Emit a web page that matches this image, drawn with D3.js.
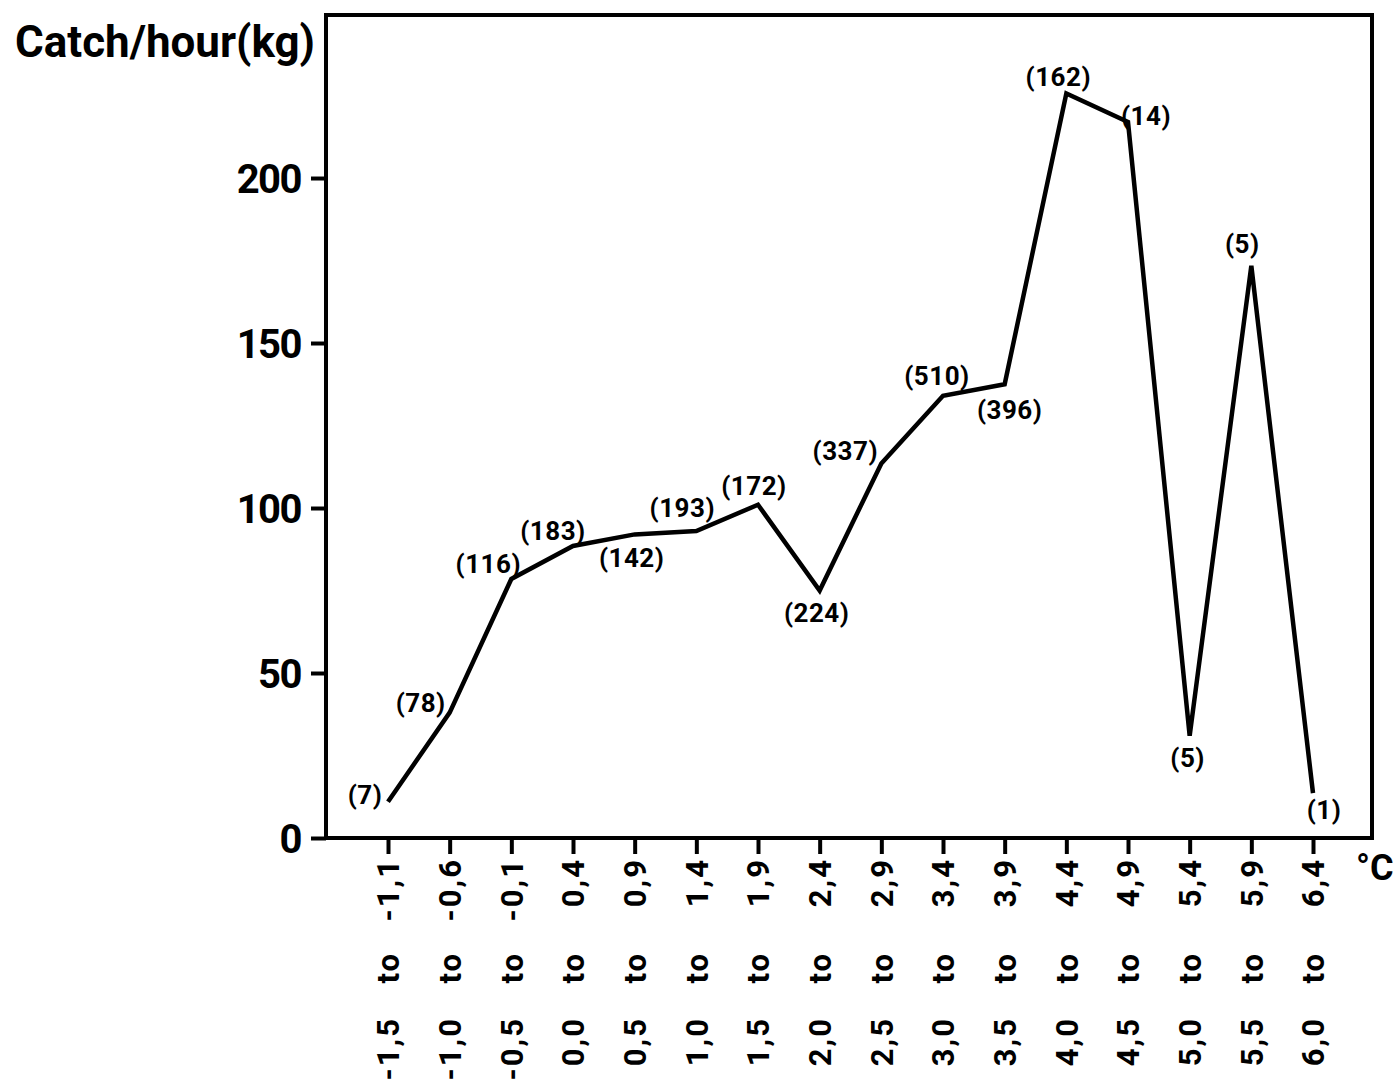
<!DOCTYPE html>
<html>
<head>
<meta charset="utf-8">
<script src="https://cdn.jsdelivr.net/npm/d3@7"></script>
<style>
  body { margin: 0; background: #fff; }
  svg { display: block; }
  text { font-family: Roboto, "DejaVu Sans", sans-serif; font-weight: 700; fill: #000; }
</style>
</head>
<body>
<div class="svgContainer"></div>
<script>
// temperature classes (lower and upper bound of each class)
const lowerBounds = ['-1,5', '-1,0', '-0,5', '0,0', '0,5', '1,0', '1,5', '2,0',
  '2,5', '3,0', '3,5', '4,0', '4,5', '5,0', '5,5', '6,0'];
const upperBounds = ['-1,1', '-0,6', '-0,1', '0,4', '0,9', '1,4', '1,9', '2,4',
  '2,9', '3,4', '3,9', '4,4', '4,9', '5,4', '5,9', '6,4'];
// catch per hour (kg)
const catchPerHour = [11, 38, 78.5, 88.5, 92, 93, 101, 75,
  113.5, 134, 137.5, 225.6, 217, 31, 173.4, 13.6];
// number of hauls, shown in brackets
const hauls = [7, 78, 116, 183, 142, 193, 172, 224, 337, 510, 396, 162, 14, 5, 5, 1];
const yTicks = [0, 50, 100, 150, 200];

// where each bracket label sits relative to its point
const labelOffsets = [[-23, -7], [-29, -10], [-23, -15], [-20, -15], [-3, 23], [-14, -23],
  [-4, -19], [-3, 22], [-36, -13], [-6, -20], [5, 25], [-8, -17], [18, -6], [-2, 22],
  [-9, -22], [11, 17]];

const width = 1397;
const height = 1084;
const frameLeft = 326, frameRight = 1372, frameTop = 15, frameBottom = 838;

const categories = lowerBounds.map((d, i) => d + ' to ' + upperBounds[i]);
const data = categories.map((c, i) => ({cat: c, y: catchPerHour[i], n: hauls[i], off: labelOffsets[i]}));

const svg = d3.select('.svgContainer').append('svg')
  .attr('width', width)
  .attr('height', height);

const scaleX = d3.scalePoint()
  .domain(categories)
  .range([388, 1313]);

const scaleY = d3.scaleLinear()
  .domain([0, 249.4])
  .range([frameBottom, frameTop]);

// frame
svg.append('rect')
  .attr('x', frameLeft)
  .attr('y', frameTop)
  .attr('width', frameRight - frameLeft)
  .attr('height', frameBottom - frameTop)
  .attr('fill', 'none')
  .attr('stroke', '#000')
  .attr('stroke-width', 4);

// y axis
const yAxis = svg.append('g')
  .attr('transform', 'translate(' + frameLeft + ',0)')
  .call(d3.axisLeft(scaleY).tickValues(yTicks).tickSize(15).tickPadding(10));
yAxis.select('.domain').remove();
yAxis.selectAll('line').attr('stroke-width', 4);
yAxis.selectAll('text')
  .attr('font-family', 'Roboto, sans-serif')
  .attr('font-weight', 500)
  .attr('font-size', 40)
  .attr('letter-spacing', -1.5)
  .attr('dy', '0.36em');

// x axis, labels drawn by hand below
const xAxis = svg.append('g')
  .attr('transform', 'translate(0,' + frameBottom + ')')
  .call(d3.axisBottom(scaleX).tickSize(16).tickFormat(''));
xAxis.select('.domain').remove();
xAxis.selectAll('line').attr('stroke-width', 4);

const cols = svg.append('g').selectAll('g.col')
  .data(data)
  .enter()
  .append('g')
  .attr('class', 'col')
  .attr('transform', d => 'translate(' + scaleX(d.cat) + ',0)');

const parts = [[d => d.cat.split(' to ')[1], 858], [d => 'to', 952], [d => d.cat.split(' to ')[0], 1017]];
parts.forEach(p => {
  cols.append('text')
    .attr('transform', 'translate(0,' + p[1] + ') rotate(-90)')
    .attr('text-anchor', 'end')
    .attr('dy', '0.36em')
    .attr('font-size', 31)
    .attr('letter-spacing', 2)
    .text(p[0]);
});

svg.append('text')
  .attr('x', 1356)
  .attr('y', 880)
  .attr('font-size', 36)
  .attr('font-weight', 500)
  .text('°C');

// title
svg.append('text')
  .attr('x', 15)
  .attr('y', 57)
  .attr('font-size', 45)
  .attr('font-weight', 500)
  .attr('textLength', 300)
  .attr('lengthAdjust', 'spacingAndGlyphs')
  .text('Catch/hour(kg)');

// line
const line = d3.line()
  .x(d => scaleX(d.cat))
  .y(d => scaleY(d.y));

svg.append('path')
  .datum(data)
  .attr('d', line)
  .attr('fill', 'none')
  .attr('stroke', '#000')
  .attr('stroke-width', 4.5)
  .attr('stroke-linejoin', 'miter');

// bracket labels
svg.append('g').selectAll('text')
  .data(data)
  .enter()
  .append('text')
  .attr('x', d => scaleX(d.cat) + d.off[0])
  .attr('y', d => scaleY(d.y) + d.off[1])
  .attr('dy', '0.36em')
  .attr('text-anchor', 'middle')
  .attr('font-size', 26)
  .attr('letter-spacing', 0.5)
  .text(d => '(' + d.n + ')');
</script>
</body>
</html>
